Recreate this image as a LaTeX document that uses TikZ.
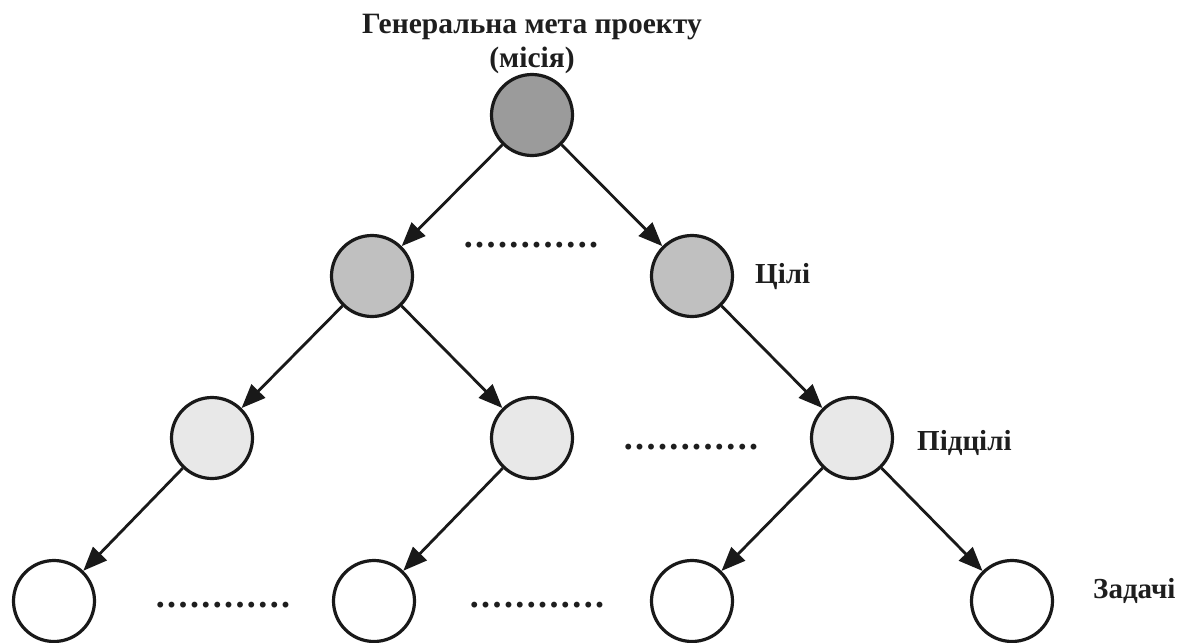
\documentclass[tikz,border=0pt]{standalone}
\usepackage{fontspec}
\setmainfont{Liberation Serif}
\usetikzlibrary{arrows.meta}
\definecolor{topfill}{RGB}{155,155,155}
\definecolor{goalfill}{RGB}{192,192,192}
\definecolor{subfill}{RGB}{232,232,232}
\definecolor{txt}{RGB}{30,30,30}
\newcommand{\dd}{.\kern2.4pt}
\newcommand{\dotrow}{\dd\dd\dd\dd\dd\dd\dd\dd\dd\dd\dd.}
\begin{document}
\begin{tikzpicture}[x=1pt,y=-1pt,
  nd/.style={circle,draw=black!90,line width=3.2pt,minimum size=81pt,inner sep=0pt},
  lvl0/.style={nd,fill=topfill},
  lvl1/.style={nd,fill=goalfill},
  lvl2/.style={nd,fill=subfill},
  lvl3/.style={nd,fill=white},
  arr/.style={draw=black!90,line width=2.8pt,-{Triangle[length=24pt,width=19pt]}},
  lbl/.style={font=\fontsize{29}{34}\selectfont\bfseries,text=txt,inner sep=0pt,anchor=base west},
  ttl/.style={font=\fontsize{29.5}{34}\selectfont\bfseries,text=txt,inner sep=0pt,anchor=base},
  dotsrow/.style={font=\fontsize{36}{40}\selectfont\bfseries,text=txt,inner sep=0pt,anchor=base}]
\useasboundingbox (0,0) rectangle (1187,643);
\fill[white] (0,0) rectangle (1187,643);
% title
\node[ttl] (t1) at (532,33) {Генеральна мета проекту};
\node[ttl] (t2) at (532,67) {(місія)};
% nodes
\node[lvl0] (m) at (532,115) {};
\node[lvl1] (g1) at (372,276) {};
\node[lvl1] (g2) at (692,276) {};
\node[lvl2] (s1) at (212,438) {};
\node[lvl2] (s2) at (532,438) {};
\node[lvl2] (s3) at (852,438) {};
\node[lvl3] (z1) at (54,601) {};
\node[lvl3] (z2) at (374,601) {};
\node[lvl3] (z3) at (692,601) {};
\node[lvl3] (z4) at (1012,601) {};
% edges
\draw[arr] (m) -- (g1);
\draw[arr] (m) -- (g2);
\draw[arr] (g1) -- (s1);
\draw[arr] (g1) -- (s2);
\draw[arr] (g2) -- (s3);
\draw[arr] (s1) -- (z1);
\draw[arr] (s2) -- (z2);
\draw[arr] (s3) -- (z3);
\draw[arr] (s3) -- (z4);
% dot rows
\node[dotsrow] (d1) at (531,247) {\dotrow};
\node[dotsrow] (d2) at (691,449) {\dotrow};
\node[dotsrow] (d3) at (223,607) {\dotrow};
\node[dotsrow] (d4) at (537,607) {\dotrow};
% labels
\node[lbl] (l1) at (755,283) {Цілі};
\node[lbl] (l2) at (917,450) {Підцілі};
\node[lbl] (l3) at (1093,598) {Задачі};
\end{tikzpicture}
\end{document}
